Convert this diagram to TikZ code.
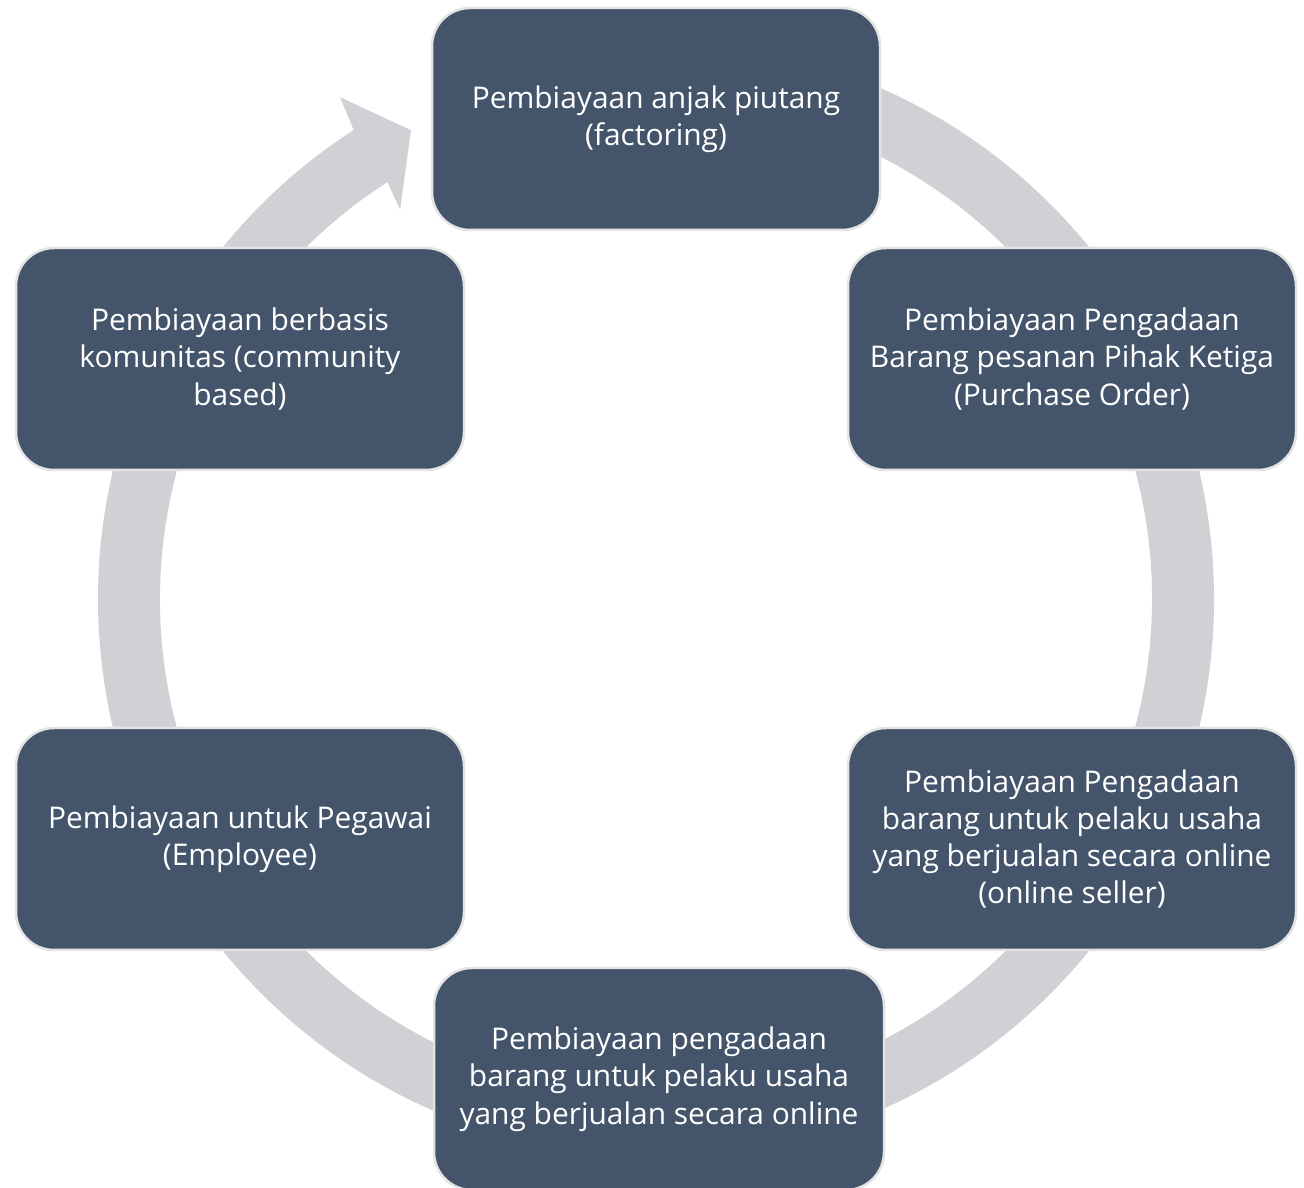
\documentclass[tikz,border=0pt]{standalone}
\usepackage{fontspec}
\setmainfont{Open Sans}
\usetikzlibrary{calc}
\definecolor{boxfill}{HTML}{44546A}
\definecolor{ringgray}{HTML}{D0D1D5}
\definecolor{boxline}{HTML}{E4E4E4}
\begin{document}
\begin{tikzpicture}[x=1pt,y=1pt,
  item/.style={rectangle, rounded corners=38pt, fill=boxfill, draw=boxline, line width=2.5pt,
    minimum width=448pt, minimum height=222pt, text=white, align=center,
    font=\fontsize{29.9}{37.3}\selectfont, inner sep=0pt}]
\useasboundingbox (0,0) rectangle (1304,1188);
\fill[white] (0,0) rectangle (1304,1188);
\coordinate (C) at (656,589);
% ring arrow
\fill[ringgray] ([shift={(C)}]95:558pt) arc[start angle=95, end angle=-237.2, radius=558pt]
  -- ([shift={(C)}]122.2:593pt) -- ([shift={(C)}]117.6:529pt) -- ([shift={(C)}]123.3:466pt)
  -- ([shift={(C)}]122.8:496pt) arc[start angle=-237.2, end angle=95, radius=496pt] -- cycle;
% boxes
\node[item] (top) at (656,1069) {Pembiayaan anjak piutang\\(factoring)};
\node[item] (rt) at (1072,829) {Pembiayaan Pengadaan\\Barang pesanan Pihak Ketiga\\(Purchase Order)};
\node[item] (rb) at (1072,349) {Pembiayaan Pengadaan\\barang untuk pelaku usaha\\yang berjualan secara online\\(online seller)};
\node[item, minimum width=450pt] (bot) at (659,109) {Pembiayaan pengadaan\\barang untuk pelaku usaha\\yang berjualan secara online};
\node[item] (lb) at (240,349) {Pembiayaan untuk Pegawai\\(Employee)};
\node[item] (lt) at (240,829) {Pembiayaan berbasis\\komunitas (community\\based)};
\end{tikzpicture}
\end{document}
